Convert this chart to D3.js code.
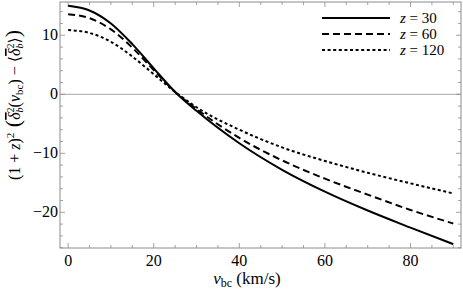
<!DOCTYPE html>
<html>
<head>
<meta charset="utf-8">
<script src="https://cdn.jsdelivr.net/npm/d3@7"></script>
<style>
  body { margin: 0; background: #fff; }
  text { font-family: "Liberation Serif", "DejaVu Serif", serif; }
</style>
</head>
<body>
<script>
const vbc = [0, 5, 10, 15, 20, 25, 30, 40, 50, 60, 70, 80, 90];
// (1+z)^2 (delta_b^2(v) - <delta_b^2>) for each redshift
const z30 = [15.0, 14.2, 12.0, 8.5, 4.4, 0.4, -2.8, -8.3, -12.8, -16.5, -19.7, -22.6, -25.4];
const z60 = [13.55, 12.9, 11.0, 7.9, 4.1, 0.4, -2.5, -7.4, -11.2, -14.3, -17.0, -19.6, -21.9];
const z120 = [10.9, 10.4, 8.9, 6.4, 3.4, 0.4, -2.2, -6.0, -9.0, -11.3, -13.3, -15.1, -16.8];
const seriesNames = ["z = 30", "z = 60", "z = 120"];
const xTicks = [0, 20, 40, 60, 80];
const yTicks = [-20, -10, 0, 10];

const w = 463, h = 290;
const pLeft = 60, pRight = 461, pTop = 2, pBottom = 248;

const svg = d3.select("body").append("svg")
    .attr("width", w)
    .attr("height", h);

const x = d3.scaleLinear().domain([-1.9, 91.8]).range([pLeft, pRight]);
const y = d3.scaleLinear().domain([-26.05, 15.64]).range([pBottom, pTop]);

const frameColor = "#8c8c8c";

// zero line
svg.append("line")
    .attr("x1", pLeft).attr("x2", pRight)
    .attr("y1", y(0)).attr("y2", y(0))
    .attr("stroke", "#b8b8b8").attr("stroke-width", 1.2);

// ticks on all four sides, pointing inward
const minorX = d3.range(0, 91, 5);
const minorY = d3.range(-26, 16, 2);
function tickLines(vals, isMajor) {
  const len = isMajor ? 5 : 3;
  vals.forEach(v => {
    svg.append("line").attr("x1", x(v)).attr("x2", x(v)).attr("y1", pBottom).attr("y2", pBottom - len)
      .attr("stroke", frameColor).attr("stroke-width", 0.8);
    svg.append("line").attr("x1", x(v)).attr("x2", x(v)).attr("y1", pTop).attr("y2", pTop + len)
      .attr("stroke", frameColor).attr("stroke-width", 0.8);
  });
}
tickLines(minorX.filter(v => v % 20 !== 0), false);
tickLines(xTicks, true);

function tickLinesY(vals, isMajor) {
  const len = isMajor ? 5 : 3;
  vals.forEach(v => {
    svg.append("line").attr("x1", pLeft).attr("x2", pLeft + len).attr("y1", y(v)).attr("y2", y(v))
      .attr("stroke", frameColor).attr("stroke-width", 0.8);
    svg.append("line").attr("x1", pRight).attr("x2", pRight - len).attr("y1", y(v)).attr("y2", y(v))
      .attr("stroke", frameColor).attr("stroke-width", 0.8);
  });
}
tickLinesY(minorY.filter(v => v % 10 !== 0), false);
tickLinesY(yTicks, true);

// frame
svg.append("rect")
    .attr("x", pLeft).attr("y", pTop)
    .attr("width", pRight - pLeft).attr("height", pBottom - pTop)
    .attr("fill", "none").attr("stroke", frameColor).attr("stroke-width", 1);

// tick labels
svg.selectAll(".xl").data(xTicks).enter().append("text")
    .attr("x", d => x(d)).attr("y", 266)
    .attr("text-anchor", "middle")
    .style("font-size", "16px")
    .text(d => d);

svg.selectAll(".yl").data(yTicks).enter().append("text")
    .attr("x", 58).attr("y", d => y(d) + 5)
    .attr("text-anchor", "end")
    .style("font-size", "16px")
    .text(d => d < 0 ? "\u2212" + Math.abs(d) : d);

// curves
const line = d3.line()
    .x(d => x(d[0]))
    .y(d => y(d[1]))
    .curve(d3.curveMonotoneX);

const series = [z30, z60, z120];
const dashes = [null, "7,4", "3,2.6"];
series.forEach((s, i) => {
  svg.append("path")
    .datum(vbc.map((v, j) => [v, s[j]]))
    .attr("d", line)
    .attr("fill", "none")
    .attr("stroke", "#000")
    .attr("stroke-width", 2)
    .attr("stroke-dasharray", dashes[i]);
});

// legend
const legY = [18, 34, 50];
seriesNames.forEach((name, i) => {
  svg.append("line")
    .attr("x1", 322).attr("x2", 390)
    .attr("y1", legY[i]).attr("y2", legY[i])
    .attr("stroke", "#000").attr("stroke-width", 2)
    .attr("stroke-dasharray", dashes[i]);
  const t = svg.append("text")
    .attr("x", 400).attr("y", legY[i] + 5)
    .style("font-size", "15px");
  const parts = name.split(" = ");
  t.append("tspan").style("font-style", "italic").text(parts[0]);
  t.append("tspan").text(" = " + parts[1]);
});

// x axis title
const xt = svg.append("text")
    .attr("x", 247).attr("y", 284)
    .attr("text-anchor", "middle")
    .style("font-size", "17px");
xt.append("tspan").style("font-style", "italic").text("v");
xt.append("tspan").attr("dy", 3).style("font-size", "12px").text("bc");
xt.append("tspan").attr("dy", -3).text(" (km/s)");

// y axis title
const yt = svg.append("text")
    .attr("transform", "translate(20,105) rotate(-90)")
    .attr("text-anchor", "middle")
    .style("font-size", "16px");
yt.append("tspan").text("(1 + ");
yt.append("tspan").style("font-style", "italic").text("z");
yt.append("tspan").text(")");
yt.append("tspan").attr("dy", -6).style("font-size", "11px").text("2");
yt.append("tspan").attr("dy", 6).style("font-size", "22px").text(" (");
yt.append("tspan").style("font-style", "italic").style("text-decoration", "overline").text("δ");
yt.append("tspan").attr("dy", -6).style("font-size", "10px").text("2");
yt.append("tspan").attr("dx", -5).attr("dy", 9).style("font-size", "10px").style("font-style", "italic").text("b");
yt.append("tspan").attr("dy", -3).text("(");
yt.append("tspan").style("font-style", "italic").text("v");
yt.append("tspan").attr("dy", 3).style("font-size", "11px").text("bc");
yt.append("tspan").attr("dy", -3).text(") \u2212 \u27E8");
yt.append("tspan").style("font-style", "italic").style("text-decoration", "overline").text("δ");
yt.append("tspan").attr("dy", -6).style("font-size", "10px").text("2");
yt.append("tspan").attr("dx", -5).attr("dy", 9).style("font-size", "10px").style("font-style", "italic").text("b");
yt.append("tspan").attr("dy", -3).text("\u27E9");
yt.append("tspan").style("font-size", "22px").text(")");
</script>
</body>
</html>
